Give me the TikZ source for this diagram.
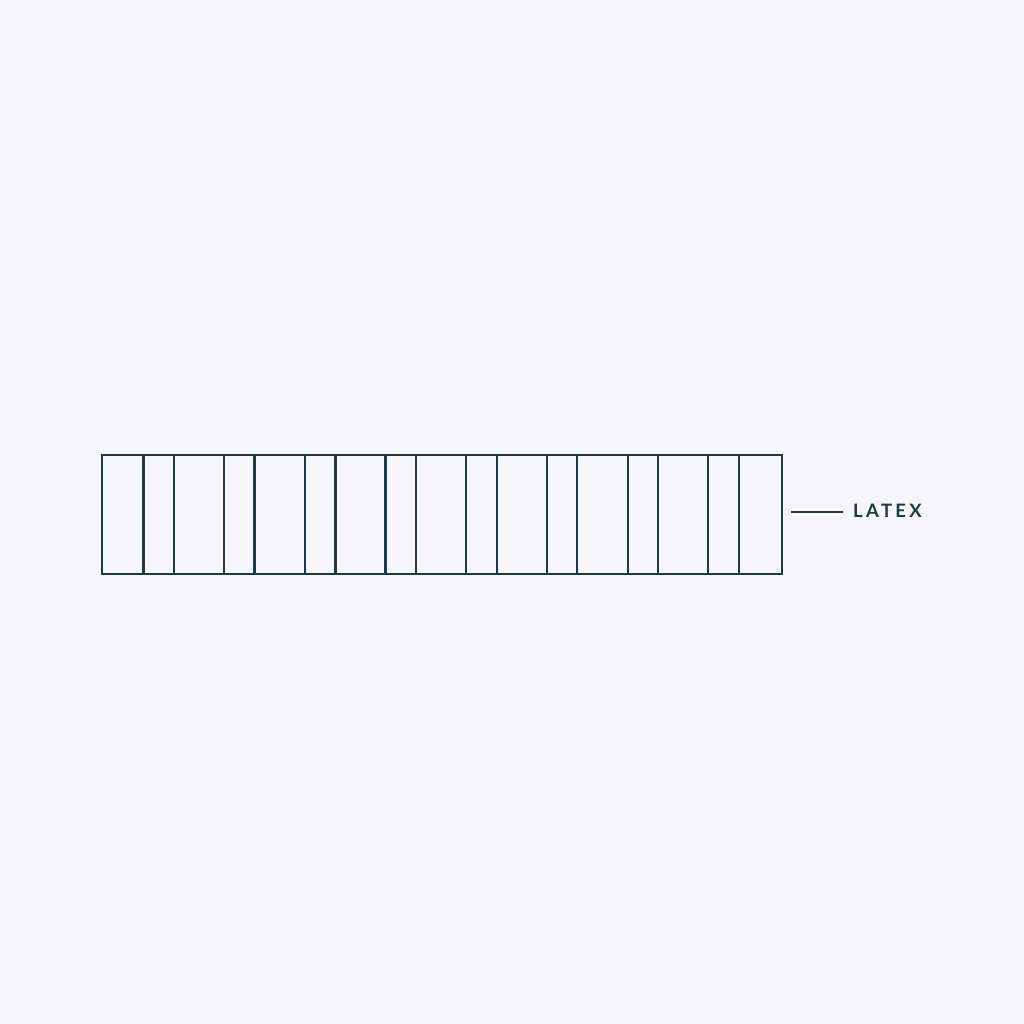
\documentclass[tikz,border=0pt]{standalone}
\usepackage{fontspec}
\setmainfont{Lato}
\definecolor{bg}{HTML}{F6F6F8}
\definecolor{ink}{HTML}{1D3846}
\begin{document}
\begin{tikzpicture}[x=1pt,y=-1pt,
  cellline/.style={draw=ink,line width=2.3pt},
  lbl/.style={font=\fontsize{18.5}{20}\selectfont\bfseries\addfontfeatures{LetterSpace=18},text=ink,anchor=west,inner sep=0pt}]
\fill[bg] (0,0) rectangle (1024,1024);
\useasboundingbox (0,0) rectangle (1024,1024);
\node[cellline,minimum width=680pt,minimum height=118.5pt,inner sep=0pt,anchor=north west] (strip) at (101,454) {};
\foreach \x in {143.5,174,224.3,254.5,305,335.5,385.5,416,465.8,496.7,547,577.3,627.8,658.3,708.3,739}
  \draw[cellline] (\x,454) -- (\x,572.5);
\coordinate (lead) at (791,511.5);
\node[lbl] (latex) at (853,511) {LATEX};
\draw[ink,line width=2pt] (lead) -- ++(52,0);
\end{tikzpicture}
\end{document}
